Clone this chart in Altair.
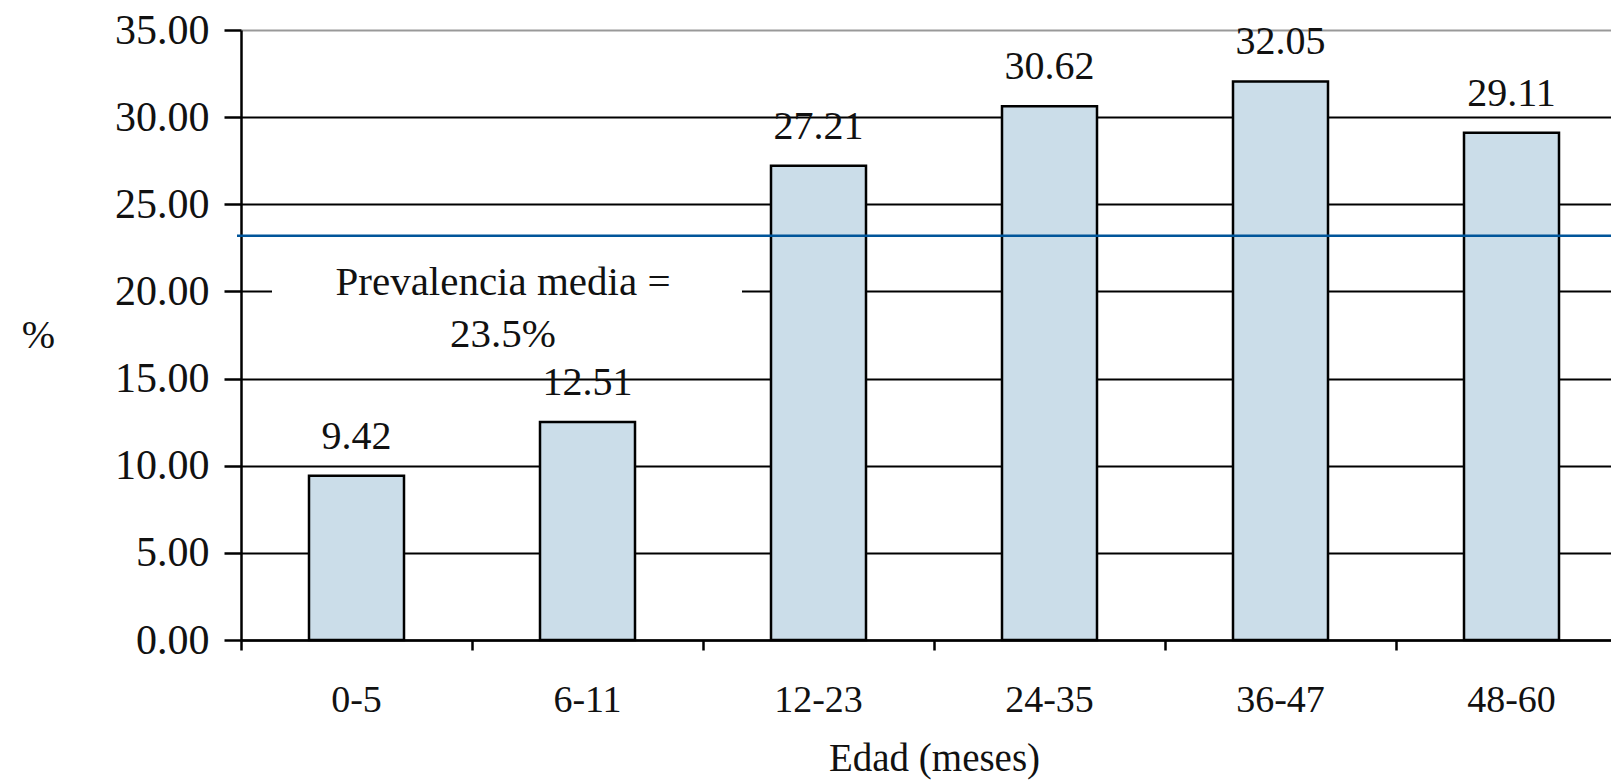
import altair as alt
import pandas as pd

# ---- data ----
categories = ["0-5", "6-11", "12-23", "24-35", "36-47", "48-60"]
values = [9.42, 12.51, 27.21, 30.62, 32.05, 29.11]
mean_line = [23.2]
ann_text = ["Prevalencia media =", "23.5%"]
ann_y = [19.8, 16.8]
box_top = [22.3]
box_bottom = [16.0]
y_ticks = [0, 5, 10, 15, 20, 25, 30, 35]

FONT = "Liberation Serif"
TXT = "#111111"
STEP = 231
N = len(categories)

bars_df = pd.DataFrame({
    "edad": categories,
    "pct": values,
    "label": [f"{v:.2f}" for v in values],
})
mean_df = pd.DataFrame({"m": mean_line})
ann_df = pd.DataFrame({"t": ann_text, "y": ann_y})
box_df = pd.DataFrame({"y1": box_top, "y2": box_bottom})

x_scale = alt.Scale(domain=categories, range=[0, STEP * N], paddingInner=0, paddingOuter=0)
y_scale = alt.Scale(domain=[0, 35], nice=False)

x_enc = alt.X(
    "edad:N", sort=categories, scale=x_scale,
    axis=alt.Axis(
        title="Edad (meses)", bandPosition=0, labelAngle=0,
        labelFont=FONT, labelFontSize=38, labelColor=TXT, labelPadding=31,
        labelBaseline="top",
        titleFont=FONT, titleFontSize=39, titleFontWeight="normal", titleColor=TXT,
        titlePadding=20,
        domainColor="black", domainWidth=2.5,
        tickColor="black", tickWidth=2.5, tickSize=10,
        grid=False,
    ),
)

y_enc = alt.Y(
    "pct:Q", scale=y_scale,
    axis=alt.Axis(
        values=y_ticks, format=".2f", title="%", titleAngle=0,
        titleX=-203, titleY=305, titleAlign="center", titleBaseline="middle",
        titleFont=FONT, titleFontSize=40, titleFontWeight="normal", titleColor=TXT,
        labelFont=FONT, labelFontSize=42, labelColor=TXT, labelPadding=15,
        domainColor="black", domainWidth=2.5,
        tickColor="black", tickWidth=2.5, tickSize=17,
        grid=True, gridWidth=2,
        gridColor={"condition": {"test": "datum.value == 35", "value": "#999999"}, "value": "black"},
    ),
)

bars = alt.Chart(bars_df).mark_bar(
    size=95, fill="#cbdde9", stroke="black", strokeWidth=2.5
).encode(x=x_enc, y=y_enc)

labels = alt.Chart(bars_df).mark_text(
    font=FONT, fontSize=40, color=TXT, baseline="alphabetic", dy=-27
).encode(
    x=alt.X("edad:N", sort=categories, scale=x_scale),
    y=alt.Y("pct:Q", scale=y_scale),
    text="label:N",
)

rule = alt.Chart(mean_df).mark_rule(color="#00559a", strokeWidth=2.5).encode(
    y=alt.Y("m:Q", scale=y_scale),
    x=alt.value(-4),
    x2=alt.value(1400),
)

box = alt.Chart(box_df).mark_rect(fill="white", stroke=None).encode(
    y=alt.Y("y1:Q", scale=y_scale),
    y2="y2:Q",
    x=alt.value(31),
    x2=alt.value(501),
)

ann = alt.Chart(ann_df).mark_text(
    font=FONT, fontSize=41, color=TXT, align="center", baseline="alphabetic"
).encode(
    y=alt.Y("y:Q", scale=y_scale),
    x=alt.value(262),
    text="t:N",
)

chart = alt.layer(bars, labels, rule, box, ann).properties(
    width=1370, height=610,
    autosize=alt.AutoSizeParams(type="none"),
    padding={"left": 241, "top": 30, "right": 0, "bottom": 141},
    background="white",
).configure_view(stroke=None)

chart.save("out.html", embed_options={"renderer": "svg", "actions": False})
